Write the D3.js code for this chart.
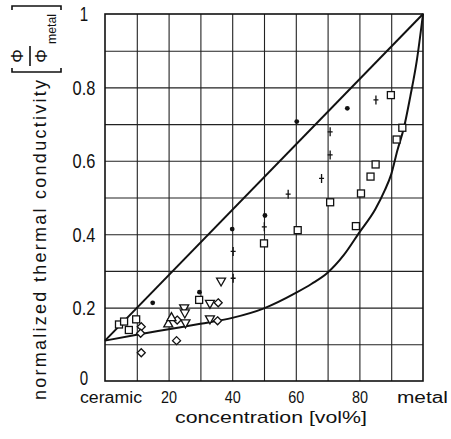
<!DOCTYPE html>
<html>
<head>
<meta charset="utf-8">
<script src="https://cdn.jsdelivr.net/npm/d3@7"></script>
<style>
  html, body { margin: 0; padding: 0; background: #fff; }
  svg { display: block; }
  text { font-family: "Liberation Sans", Arial, sans-serif; fill: #111; }
</style>
</head>
<body>
<svg id="chart" width="451" height="439"></svg>
<script>
// Tick values and labels
const xTickValues = [20, 40, 60, 80];
const yTickValues = [0, 0.2, 0.4, 0.6, 0.8, 1];
const yTickLabels = ["0", "0.2", "0.4", "0.6", "0.8", "1"];

// Bound curves: [metal vol%, normalized conductivity]
const upperBound = [[0, 0.11], [100, 1.0]];
const lowerBound = [
  [0, 0.11], [10, 0.126], [20, 0.141], [30, 0.156], [40, 0.172], [50, 0.198],
  [60, 0.24], [65, 0.265], [70, 0.295], [75, 0.342], [80, 0.405], [85, 0.468],
  [88, 0.52], [90, 0.563], [92, 0.63], [94, 0.69], [96, 0.775], [98, 0.87], [100, 1.0]
];

// Measured values, one array per marker type
const dots = [[15.0, 0.213], [29.7, 0.242], [40.0, 0.414], [50.3, 0.451], [60.3, 0.707], [76.2, 0.743]];
const pluses = [[40.3, 0.28], [40.3, 0.353], [50.1, 0.42], [57.6, 0.509], [68.1, 0.552], [70.8, 0.616], [70.8, 0.679], [85.2, 0.766]];
const squares = [[4.4, 0.154], [6.0, 0.162], [7.5, 0.139], [9.8, 0.168], [29.6, 0.221], [50.0, 0.375], [60.6, 0.411],
  [70.8, 0.487], [78.9, 0.422], [80.5, 0.511], [83.5, 0.557], [85.1, 0.590], [89.9, 0.779], [91.7, 0.658], [93.5, 0.69]];
const diamonds = [[11.4, 0.148], [11.2, 0.130], [11.4, 0.077], [22.5, 0.110], [22.7, 0.166], [35.6, 0.213], [35.4, 0.164]];
const trianglesDown = [[24.9, 0.198], [25.1, 0.184], [25.3, 0.157], [33.0, 0.210], [33.0, 0.168], [36.5, 0.271]];
const trianglesUp = [[19.9, 0.157], [20.9, 0.174]];

const svg = d3.select("#chart");
const plotLeft = 105, plotRight = 423, plotTop = 14, plotBottom = 381;
const W = plotRight - plotLeft, H = plotBottom - plotTop;

const x = d3.scaleLinear().domain([0, 100]).range([plotLeft, plotRight]);
const y = d3.scaleLinear().domain([0, 1]).range([plotBottom, plotTop]);

// Condensed lettering: squeeze glyphs to a width proportional to the character count
const squeeze = (sel, perChar, dotW) => sel.each(function () {
  const s = this.textContent;
  let w = 0;
  for (const c of s) w += (c === ".") ? dotW : perChar;
  d3.select(this).attr("textLength", w).attr("lengthAdjust", "spacingAndGlyphs");
});

// Grid
const grid = svg.append("g").attr("class", "grid");
grid.append("g")
  .attr("transform", `translate(0,${plotBottom})`)
  .call(d3.axisBottom(x).tickValues(d3.range(10, 100, 10)).tickSize(-H).tickFormat(""))
  .call(g => g.select(".domain").remove())
  .call(g => g.selectAll("line").attr("stroke", "#222").attr("stroke-width", 1.1));
grid.append("g")
  .attr("transform", `translate(${plotLeft},0)`)
  .call(d3.axisLeft(y).tickValues(d3.range(1, 10).map(d => d / 10)).tickSize(-W).tickFormat(""))
  .call(g => g.select(".domain").remove())
  .call(g => g.selectAll("line").attr("stroke", "#222").attr("stroke-width", 1.1));

// Frame
svg.append("rect")
  .attr("x", plotLeft).attr("y", plotTop).attr("width", W).attr("height", H)
  .attr("fill", "none").attr("stroke", "#111").attr("stroke-width", 1.6);

// Y tick labels (the zero label sits a little higher, clear of the x labels)
svg.append("g")
  .attr("transform", `translate(${plotLeft},0)`)
  .call(d3.axisLeft(y).tickValues(yTickValues).tickSize(0)
    .tickFormat((d, i) => yTickLabels[i]))
  .call(g => g.select(".domain").remove())
  .call(g => g.selectAll("text")
    .attr("x", -21).attr("dy", d => d === 0 ? "0.15em" : "0.34em")
    .attr("text-anchor", "middle")
    .attr("font-family", null)
    .attr("font-size", null)
    .style("font-size", "20px")
    .attr("fill", "#111")
    .call(squeeze, 8.4, 6));

// X tick labels
svg.append("g")
  .attr("transform", `translate(0,${plotBottom})`)
  .call(d3.axisBottom(x).tickValues(xTickValues).tickSize(0).tickFormat(d3.format("d")))
  .call(g => g.select(".domain").remove())
  .call(g => g.selectAll("text")
    .attr("y", 22).attr("dy", 0)
    .attr("font-family", null)
    .attr("font-size", null)
    .style("font-size", "16px")
    .attr("fill", "#111")
    .call(squeeze, 8, 4));

svg.append("text").attr("x", 80).attr("y", 403)
  .attr("textLength", 62).attr("lengthAdjust", "spacingAndGlyphs")
  .style("font-size", "16px").text("ceramic");
svg.append("text").attr("x", 397).attr("y", 403)
  .attr("textLength", 51).attr("lengthAdjust", "spacingAndGlyphs")
  .style("font-size", "16px").text("metal");
svg.append("text").attr("x", 175).attr("y", 423)
  .attr("textLength", 192).attr("lengthAdjust", "spacingAndGlyphs")
  .style("font-size", "17px").text("concentration [vol%]");

// Y axis title
svg.append("text")
  .attr("transform", "translate(46,400) rotate(-90)")
  .attr("x", 0).attr("y", 0)
  .attr("textLength", 320).attr("lengthAdjust", "spacing")
  .style("font-size", "18px").text("normalized thermal conductivity");

// Unit bracket [Φ / Φmetal]
const unit = svg.append("g").attr("transform", "translate(34,39) rotate(-90)");
unit.append("path")
  .attr("d", "M-29,-22 L-33,-22 L-33,27 L-29,27 M29,-22 L33,-22 L33,27 L29,27")
  .attr("fill", "none").attr("stroke", "#111").attr("stroke-width", 1.6);
unit.append("text").attr("x", -17).attr("y", -11).attr("text-anchor", "middle")
  .style("font-size", "17px").text("Φ");
unit.append("line").attr("x1", -27).attr("x2", -7).attr("y1", -4).attr("y2", -4)
  .attr("stroke", "#111").attr("stroke-width", 1.6);
unit.append("text").attr("x", -17).attr("y", 13).attr("text-anchor", "middle")
  .style("font-size", "17px").text("Φ");
unit.append("text").attr("x", -5).attr("y", 22)
  .attr("textLength", 30).attr("lengthAdjust", "spacingAndGlyphs")
  .style("font-size", "12px").text("metal");

// Bound curves
const line = d3.line().x(d => x(d[0])).y(d => y(d[1])).curve(d3.curveMonotoneX);
const curves = svg.append("g").attr("fill", "none").attr("stroke", "#111").attr("stroke-width", 2);
curves.append("path").attr("d", line(upperBound));
curves.append("path").attr("d", line(lowerBound));

// Markers
const marks = svg.append("g").attr("fill", "none").attr("stroke", "#111").attr("stroke-width", 1.3);

marks.selectAll(".dot").data(dots).join("circle")
  .attr("cx", d => x(d[0])).attr("cy", d => y(d[1])).attr("r", 2.4)
  .attr("fill", "#111").attr("stroke", "none");

marks.selectAll(".plus").data(pluses).join("path")
  .attr("transform", d => `translate(${x(d[0])},${y(d[1])})`)
  .attr("d", "M0,-4.5 V4.5 M-2.5,0 H2.5");

marks.selectAll(".sq").data(squares).join("rect")
  .attr("x", d => x(d[0]) - 3.5).attr("y", d => y(d[1]) - 3.5)
  .attr("width", 7).attr("height", 7).attr("fill", "#fff");

marks.selectAll(".dm").data(diamonds).join("path")
  .attr("transform", d => `translate(${x(d[0])},${y(d[1])})`)
  .attr("d", "M0,-4 L4,0 L0,4 L-4,0 Z").attr("fill", "#fff");

marks.selectAll(".tdn").data(trianglesDown).join("path")
  .attr("transform", d => `translate(${x(d[0])},${y(d[1])})`)
  .attr("d", "M-4.5,-3.5 L4.5,-3.5 L0,4.5 Z").attr("fill", "#fff");

marks.selectAll(".tup").data(trianglesUp).join("path")
  .attr("transform", d => `translate(${x(d[0])},${y(d[1])})`)
  .attr("d", "M-4.5,3.5 L4.5,3.5 L0,-4.5 Z").attr("fill", "#fff");
</script>
</body>
</html>
